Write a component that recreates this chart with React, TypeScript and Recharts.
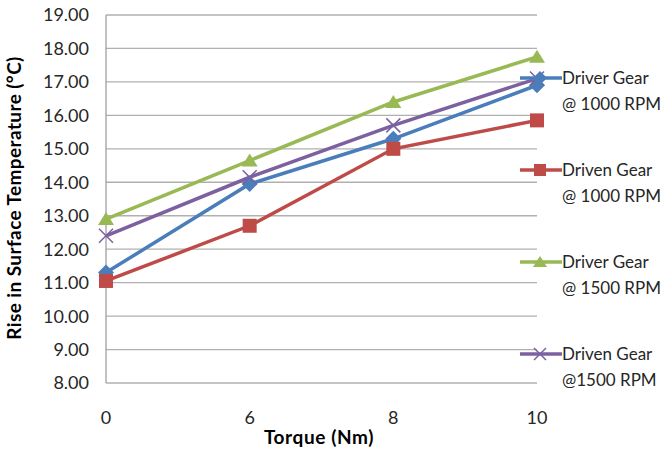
import React from 'react';
import { LineChart, Line, XAxis, YAxis, CartesianGrid, Label } from 'recharts';

const torque = ['0', '6', '8', '10'];
const driver1000 = [11.3, 13.95, 15.3, 16.9];
const driven1000 = [11.05, 12.7, 15.0, 15.85];
const driver1500 = [12.9, 14.65, 16.4, 17.75];
const driven1500 = [12.4, 14.15, 15.7, 17.1];
const yTicks = [8, 9, 10, 11, 12, 13, 14, 15, 16, 17, 18, 19];

const data = torque.map((t, i) => ({
    torque: t,
    driver1000: driver1000[i],
    driven1000: driven1000[i],
    driver1500: driver1500[i],
    driven1500: driven1500[i],
}));

const FONT = 'Lato, "Open Sans", sans-serif';

type Kind = 'diamond' | 'square' | 'triangle' | 'cross';

const SERIES: { key: string; color: string; kind: Kind; line1: string; line2: string }[] = [
    { key: 'driver1000', color: '#4a7ebb', kind: 'diamond', line1: 'Driver Gear', line2: '@ 1000 RPM' },
    { key: 'driven1000', color: '#be4b48', kind: 'square', line1: 'Driven Gear', line2: '@ 1000 RPM' },
    { key: 'driver1500', color: '#98b954', kind: 'triangle', line1: 'Driver Gear', line2: '@ 1500 RPM' },
    { key: 'driven1500', color: '#7d60a0', kind: 'cross', line1: 'Driven Gear', line2: '@1500 RPM' },
];

const Marker = ({ cx, cy, kind, color, s = 7 }: { cx: number; cy: number; kind: Kind; color: string; s?: number }) => {
    if (kind === 'diamond') {
        return <path d={`M${cx},${cy - s - 1}L${cx + s + 1},${cy}L${cx},${cy + s + 1}L${cx - s - 1},${cy}Z`} fill={color} />;
    }
    if (kind === 'square') {
        return <rect x={cx - s} y={cy - s} width={s * 2} height={s * 2} fill={color} />;
    }
    if (kind === 'triangle') {
        return <path d={`M${cx},${cy - s}L${cx + s + 1},${cy + s - 1}L${cx - s - 1},${cy + s - 1}Z`} fill={color} />;
    }
    return (
        <path
            d={`M${cx - s},${cy - s}L${cx + s},${cy + s}M${cx - s},${cy + s}L${cx + s},${cy - s}`}
            stroke={color}
            strokeWidth={1.5}
            fill="none"
        />
    );
};

// legend sits in its own box on the right, like the Excel original
const ChartLegend = () => (
    <div style={{ position: 'absolute', left: 520, top: 65, width: 145, fontFamily: FONT, fontSize: 17, color: '#262626' }}>
        {SERIES.map((s) => (
            <div key={s.key} style={{ height: 92, display: 'flex', alignItems: 'flex-start' }}>
                <svg width={42} height={26} style={{ flexShrink: 0 }}>
                    <line x1={0} y1={13} x2={42} y2={13} stroke={s.color} strokeWidth={3.5} />
                    <Marker cx={20} cy={13} kind={s.kind} color={s.color} s={6} />
                </svg>
                <div style={{ lineHeight: '26px', whiteSpace: 'nowrap' }}>
                    <div>{s.line1}</div>
                    <div>{s.line2}</div>
                </div>
            </div>
        ))}
    </div>
);

const XTick = ({ x, y, payload }: any) => (
    <text x={x} y={y} dy={41} textAnchor="middle" fontFamily={FONT} fontSize={18} fill="#262626">
        {payload.value}
    </text>
);

const YTick = ({ x, y, payload }: any) => (
    <text x={x} y={y} dy="0.36em" textAnchor="end" fontFamily={FONT} fontSize={18} fill="#262626">
        {Number(payload.value).toFixed(2)}
    </text>
);

export default function App() {
    return (
        <div style={{ position: 'absolute', left: 0, top: 0, width: 665, height: 453, background: '#fff' }}>
            <LineChart width={665} height={453} data={data} margin={{ top: 15, right: 128, left: 0, bottom: 0 }}>
                <CartesianGrid vertical={false} stroke="#b0b0b0" strokeWidth={1.3} />
                <XAxis dataKey="torque" height={70} axisLine={false} tickLine={false} tickSize={0} tickMargin={0} tick={<XTick />}>
                    <Label
                        content={() => (
                            <text
                                x={319}
                                y={444}
                                textAnchor="middle"
                                fontFamily={FONT}
                                fontSize={19}
                                fontWeight={700}
                                letterSpacing={0.6}
                                fill="#000"
                            >
                                Torque (Nm)
                            </text>
                        )}
                    />
                </XAxis>
                <YAxis
                    width={106}
                    domain={[8, 19]}
                    ticks={yTicks}
                    interval={0}
                    axisLine={{ stroke: '#a0a0a0', strokeWidth: 1.3 }}
                    tickLine={false}
                    tickSize={0}
                    tickMargin={17}
                    tick={<YTick />}
                >
                    <Label
                        content={() => (
                            <text
                                x={21}
                                y={198}
                                transform="rotate(-90 21 198)"
                                textAnchor="middle"
                                fontFamily={FONT}
                                fontSize={19}
                                fontWeight={700}
                                letterSpacing={0.4}
                                fill="#000"
                            >
                                Rise in Surface Temperature (°C)
                            </text>
                        )}
                    />
                </YAxis>
                {SERIES.map((s) => (
                    <Line
                        key={s.key}
                        type="linear"
                        dataKey={s.key}
                        stroke={s.color}
                        strokeWidth={3.5}
                        isAnimationActive={false}
                        dot={(p: any) => <Marker key={`${s.key}-${p.index}`} cx={p.cx} cy={p.cy} kind={s.kind} color={s.color} />}
                        activeDot={false}
                    />
                ))}
            </LineChart>
            <ChartLegend />
        </div>
    );
}
